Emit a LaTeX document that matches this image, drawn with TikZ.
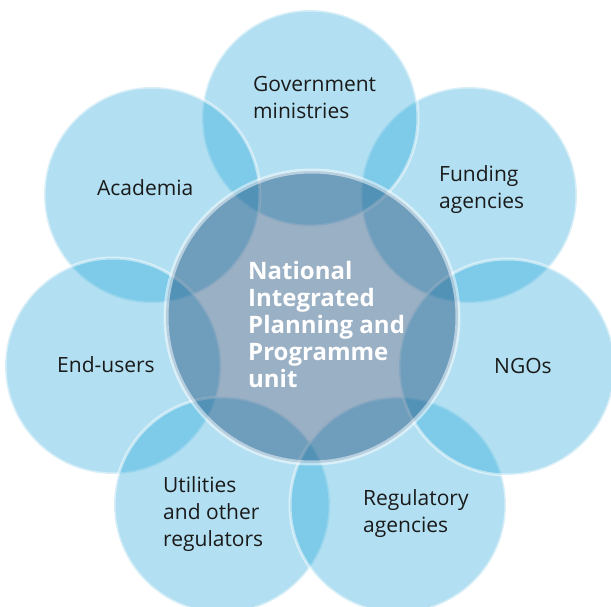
\documentclass[tikz,border=0pt]{standalone}
\usepackage{fontspec}
\setmainfont{Open Sans}
\definecolor{petalblue}{RGB}{15,157,214}
\definecolor{hubblue}{RGB}{31,79,124}
\definecolor{ink}{RGB}{26,26,26}
\tikzset{
  petal/.style={fill=petalblue, fill opacity=0.32, draw=white, draw opacity=0.5, line width=3},
  hub/.style={fill=hubblue, fill opacity=0.45, draw=white, draw opacity=0.5, line width=5},
  lbl/.style={anchor=base west, align=left, inner sep=0, text=ink, font=\fontsize{21}{27}\selectfont},
  hublbl/.style={anchor=base west, align=left, inner sep=0, text=white, font=\bfseries\fontsize{24}{27}\selectfont}
}
\begin{document}
\begin{tikzpicture}[x=1pt,y=-1pt]
\useasboundingbox (0,0) rectangle (611,607);
% petals
\path[petal] (469,195) circle[radius=108];
\path[petal] (310,118) circle[radius=108];
\path[petal] (152,195) circle[radius=108];
\path[petal] (113,366) circle[radius=108];
\path[petal] (222,505) circle[radius=108];
\path[petal] (398,505) circle[radius=108];
\path[petal] (507,367) circle[radius=108];
% hub
\path[hub] (312,317) circle[radius=146];
% labels (anchored at the baseline of the last line)
\node[lbl] (gov) at (253,119) {Government\\ministries};
\node[lbl] (fund) at (439,208) {Funding\\agencies};
\node[lbl] (acad) at (97,196) {Academia};
\node[lbl] (endu) at (57,372) {End-users};
\node[lbl] (ngo) at (494,373) {NGOs};
\node[lbl] (util) at (163,546.5) {Utilities\\and other\\regulators};
\node[lbl] (regu) at (363,532) {Regulatory\\agencies};
\node[hublbl] (unit) at (248,387.5) {National\\Integrated\\Planning and\\Programme\\unit};
\end{tikzpicture}
\end{document}
